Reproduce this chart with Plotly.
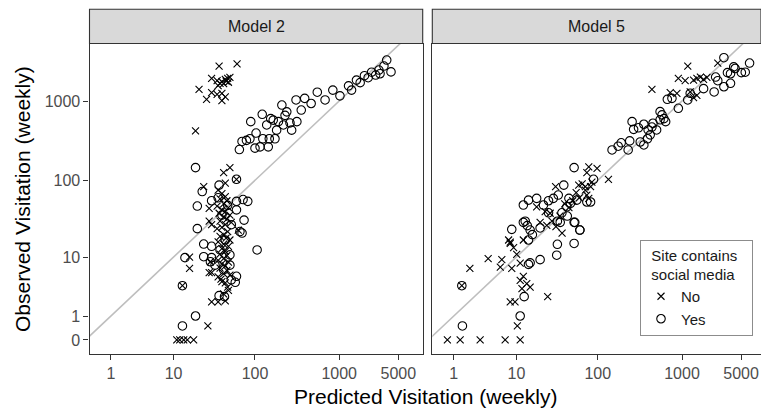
import numpy as np
import plotly.graph_objects as go

# ---------------- data (weekly visitation) ----------------
m2_no_pred = [37, 61, 30, 35, 40, 44, 47, 50, 38, 21, 26, 30, 35, 40, 44, 40, 42, 48, 36, 45, 19,
              42, 50, 44, 24, 28, 28, 30, 63, 16, 16, 29, 28, 30, 40, 47, 36, 13, 30, 36, 44, 27,
              11, 12, 13.5, 15, 18, 60,
              36, 40, 44, 38, 46, 42, 35, 48, 40, 44, 37, 50, 42, 46, 38, 52, 44, 40, 35, 47, 42,
              38, 45, 50, 36, 42, 48, 40, 44, 38, 46, 42, 36, 48, 40, 44, 38, 46, 42, 50, 39, 44,
              48, 42]
m2_no_obs = [2750, 2920, 1930, 1800, 1750, 1870, 1930, 1985, 1670, 1400, 1050, 1270, 1210, 1250,
             1130, 1010, 1650, 1720, 1560, 1780, 420,
             125, 145, 92, 83, 44, 30, 27, 23, 10, 6.9, 8.6, 6.0, 6.0, 4.4, 3.6, 5.2, 3.8, 2.0,
             2.0, 2.1, 0.5, 0, 0, 0, 0, 0, 103,
             75, 68, 62, 58, 55, 50, 47, 45, 42, 40, 38, 36, 34, 32, 30, 29, 27, 25, 24, 22, 20,
             19, 18, 17, 16, 15, 14, 13, 12, 11, 10.5, 9.5, 9, 8.5, 8, 7.5, 7, 6.5, 5.8, 5.5,
             4.8, 4.2, 3.2, 2.8]

m2_yes_pred = [65, 70, 79, 87, 89, 100, 103, 115, 122, 124, 138, 144, 148, 154, 165, 173, 181,
               190, 209, 218, 228, 239, 261, 273, 315, 308,
               355, 390, 465, 550, 680, 840, 1020, 1290, 1400, 1600, 1770, 1990, 2200, 2420,
               2700, 2950, 3040, 3380, 3650, 4100,
               19, 60, 37, 23, 30, 72, 82, 60, 20, 60, 74, 20, 66, 70, 24, 30, 24, 30, 14, 50,
               60, 13, 37, 43, 19, 13, 106, 29,
               36, 47, 40, 52, 44, 38, 50, 33, 42, 52, 58]
m2_yes_obs = [245, 310, 320, 335, 550, 255, 395, 265, 680, 335, 500, 265, 335, 600, 575, 335,
              430, 550, 890, 500, 660, 730, 530, 430, 550, 1030,
              770, 1080, 930, 1290, 1030, 1370, 1160, 1550, 1370, 1830, 1700, 2080, 1960, 2300,
              2120, 2450, 2200, 2750, 3270, 2320,
              145, 103, 87, 72, 55, 57, 54, 54, 47, 42, 31, 24, 22, 21, 15, 14, 10.1, 9.8, 9.8,
              7.7, 5.3, 3.8, 2.6, 2.5, 1.0, 0.5, 12.5, 8.6,
              60, 48, 36, 27, 17, 12.5, 10.7, 7.7, 6.6, 4.7, 4.3]

m5_no_pred = [1170, 2650, 905, 1090, 1370, 1500, 1650, 1800, 1970, 440, 725, 870, 1250, 1370,
              1500, 78, 98, 74, 134, 31, 59, 71, 71, 74, 78, 82,
              18.1, 23.1, 26.6, 20, 24.2, 31.3, 37.2,
              7.9, 6.4, 6.1, 8.3, 9.2, 10.1, 11.2, 12.3, 13.6, 11.8, 15.0, 11.2, 8.7,
              4.1, 2.1, 1.49, 24.8, 8.3, 9.6, 10.3,
              0.68, 1.38, 3.1, 7.1, 11.2, 8.3, 12.3,
              40, 45, 55, 60, 35, 28, 50, 65, 85]
m5_no_obs = [2750, 3000, 1930, 1800, 1830, 1930, 2000, 1870, 1985, 1400, 1270, 1250, 1300, 1100,
             1180, 148, 142, 125, 103, 83, 87, 83, 75, 65, 59, 83,
             46, 40, 38, 29, 26.5, 25.5, 21,
             17, 9.2, 7.2, 15.9, 13.4, 10.9, 8.2, 5.3, 4.1, 3.4, 3.6, 4.6, 6.9,
             9.5, 6.9, 3.8, 2.5, 2.0, 2.0, 0.5,
             0, 0, 0, 0, 0, 15.3, 17,
             50, 45, 70, 60, 35, 30, 55, 90, 95]

m5_yes_pred = [3130, 4090, 4250, 3450, 3750, 5040, 5600, 6300,
               2500, 2650, 3130, 3750, 2400, 1800,
               670, 760, 905, 1170, 1250,
               550, 580, 610, 640, 550,
               256, 353, 453, 267, 305, 397, 500, 420, 390, 353, 320, 240, 190, 175, 148, 230, 440,
               52, 89, 39,
               12.3, 14.3, 18.1, 22, 25.4, 29.1, 33.4,
               13, 13.8, 15, 20, 25.4, 32.6, 35.3, 42.5, 52, 61, 32.6, 32, 52, 16, 14.3, 20, 15,
               14.3, 45, 47, 56, 74, 82, 37, 43, 53, 61, 8.7, 12.3,
               1.49, 12.6, 11.2, 1.53]
m5_yes_obs = [3500, 2680, 2560, 2270, 2200, 2270, 2300, 3000,
              2000, 1800, 1510, 1670, 1300, 1430,
              1050, 1080, 810, 1030, 1250,
              735, 670, 600, 550, 580,
              550, 510, 525, 440, 460, 432, 432, 375, 335, 280, 305, 315, 298, 270, 242, 242, 470,
              145, 103, 87,
              48.5, 56, 59, 48.5, 55, 59, 65,
              30, 26.3, 23, 24.5, 38.5, 30, 29, 46, 29, 23, 14.9, 10.6, 15.3, 20, 17, 9.2, 8.3,
              7.9, 59, 51, 56, 53, 53, 38.5, 35, 29, 23, 23.5, 29,
              3.8, 2.5, 1.0, 0.5]

panels = ["Model 2", "Model 5"]
groups = ["No", "Yes"]
tick_vals = [1, 10, 100, 1000, 5000]
y_tick_vals = [0, 1, 10, 100, 1000]


def tr(v):
    return np.log10(np.asarray(v, dtype=float) + 1.0)


W, H = 761, 409
FONT = "Liberation Sans, Arial, Helvetica"
fig = go.Figure()

data = {
    ("Model 2", "No"): (m2_no_pred, m2_no_obs),
    ("Model 2", "Yes"): (m2_yes_pred, m2_yes_obs),
    ("Model 5", "No"): (m5_no_pred, m5_no_obs),
    ("Model 5", "Yes"): (m5_yes_pred, m5_yes_obs),
}
symbols = {"No": "x-thin-open", "Yes": "circle-open"}
sizes = {"No": 7, "Yes": 8.5}

# identity reference lines
for i, p in enumerate(panels):
    ax = "" if i == 0 else "2"
    fig.add_trace(go.Scatter(x=[-1, 5], y=[-1, 5], mode="lines",
                             line=dict(color="#BEBEBE", width=1.6),
                             xaxis="x" + ax, yaxis="y" + ax, showlegend=False,
                             hoverinfo="skip"))

for i, p in enumerate(panels):
    ax = "" if i == 0 else "2"
    for g in groups:
        xs, ys = data[(p, g)]
        fig.add_trace(go.Scatter(
            x=tr(xs), y=tr(ys), mode="markers", name=g, legendgroup=g,
            showlegend=(i == 0),
            marker=dict(symbol=symbols[g], size=sizes[g], color="black",
                        line=dict(color="black", width=1.1)),
            xaxis="x" + ax, yaxis="y" + ax))

# panel geometry (pixels)
p1 = (89.5, 422.7)
p2 = (432.3, 761.0)
ptop, pbot = 44.0, 354.0
scale_x = 84.55
u_left = 0.047

ydom = [1 - pbot / H, 1 - ptop / H]
axis_common = dict(showline=True, mirror=True, linecolor="#333333", linewidth=1.1,
                   showgrid=False, zeroline=False, ticks="outside", ticklen=5,
                   tickcolor="#333333", tickwidth=1.1,
                   tickfont=dict(family=FONT, size=16, color="#4D4D4D"))

xt = list(tr(tick_vals))
yt = list(tr(y_tick_vals))
fig.update_layout(
    width=W, height=H, margin=dict(l=0, r=0, t=0, b=0),
    paper_bgcolor="white", plot_bgcolor="white",
    xaxis=dict(domain=[p1[0] / W, p1[1] / W], anchor="y",
               range=[u_left, u_left + (p1[1] - p1[0]) / scale_x],
               tickvals=xt, ticktext=[str(t) for t in tick_vals], **axis_common),
    xaxis2=dict(domain=[p2[0] / W, p2[1] / W], anchor="y2",
                range=[u_left, u_left + (p2[1] - p2[0]) / scale_x],
                tickvals=xt, ticktext=[str(t) for t in tick_vals], **axis_common),
    yaxis=dict(domain=ydom, anchor="x", range=[-0.176, 3.716],
               tickvals=yt, ticktext=[str(t) for t in y_tick_vals], **axis_common),
    yaxis2=dict(domain=ydom, anchor="x2", range=[-0.176, 3.716],
                **{**axis_common, "ticks": ""}, showticklabels=False),
    legend=dict(x=753 / W, xanchor="right", y=1 - 336 / H, yanchor="bottom",
                bgcolor="white", bordercolor="#8C8C8C", borderwidth=1,
                font=dict(family=FONT, size=15, color="#1A1A1A"),
                title=dict(text="&nbsp;&nbsp;Site contains&nbsp;&nbsp;&nbsp;<br>&nbsp;&nbsp;social media",
                           font=dict(family=FONT, size=15, color="#1A1A1A")),
                tracegroupgap=0, itemwidth=30),
)

# facet strips
shapes = []
annotations = []
for (x0, x1), lab in zip([p1, p2], panels):
    shapes.append(dict(type="rect", xref="paper", yref="paper",
                       x0=x0 / W, x1=x1 / W, y0=1 - 43.5 / H, y1=1 - 9.3 / H,
                       fillcolor="#D9D9D9", line=dict(color="#333333", width=1.1)))
    annotations.append(dict(text=lab, xref="paper", yref="paper",
                            x=(x0 + min(x1, x0 + 333)) / 2 / W, y=1 - 26.5 / H,
                            showarrow=False, xanchor="center", yanchor="middle",
                            font=dict(family=FONT, size=16, color="#1A1A1A")))

annotations.append(dict(text="Predicted Visitation (weekly)", xref="paper", yref="paper",
                        x=425 / W, y=1 - 396 / H, showarrow=False, xanchor="center",
                        yanchor="middle",
                        font=dict(family=FONT, size=21, color="black")))
annotations.append(dict(text="Observed Visitation (weekly)", xref="paper", yref="paper",
                        x=22 / W, y=1 - 199 / H, showarrow=False, textangle=-90,
                        xanchor="center", yanchor="middle",
                        font=dict(family=FONT, size=21, color="black")))
fig.update_layout(shapes=shapes, annotations=annotations)

fig.write_html("out.html", config={"displayModeBar": False},
               post_script="document.body.style.margin='0px';"
                           "document.body.style.overflow='hidden';")
